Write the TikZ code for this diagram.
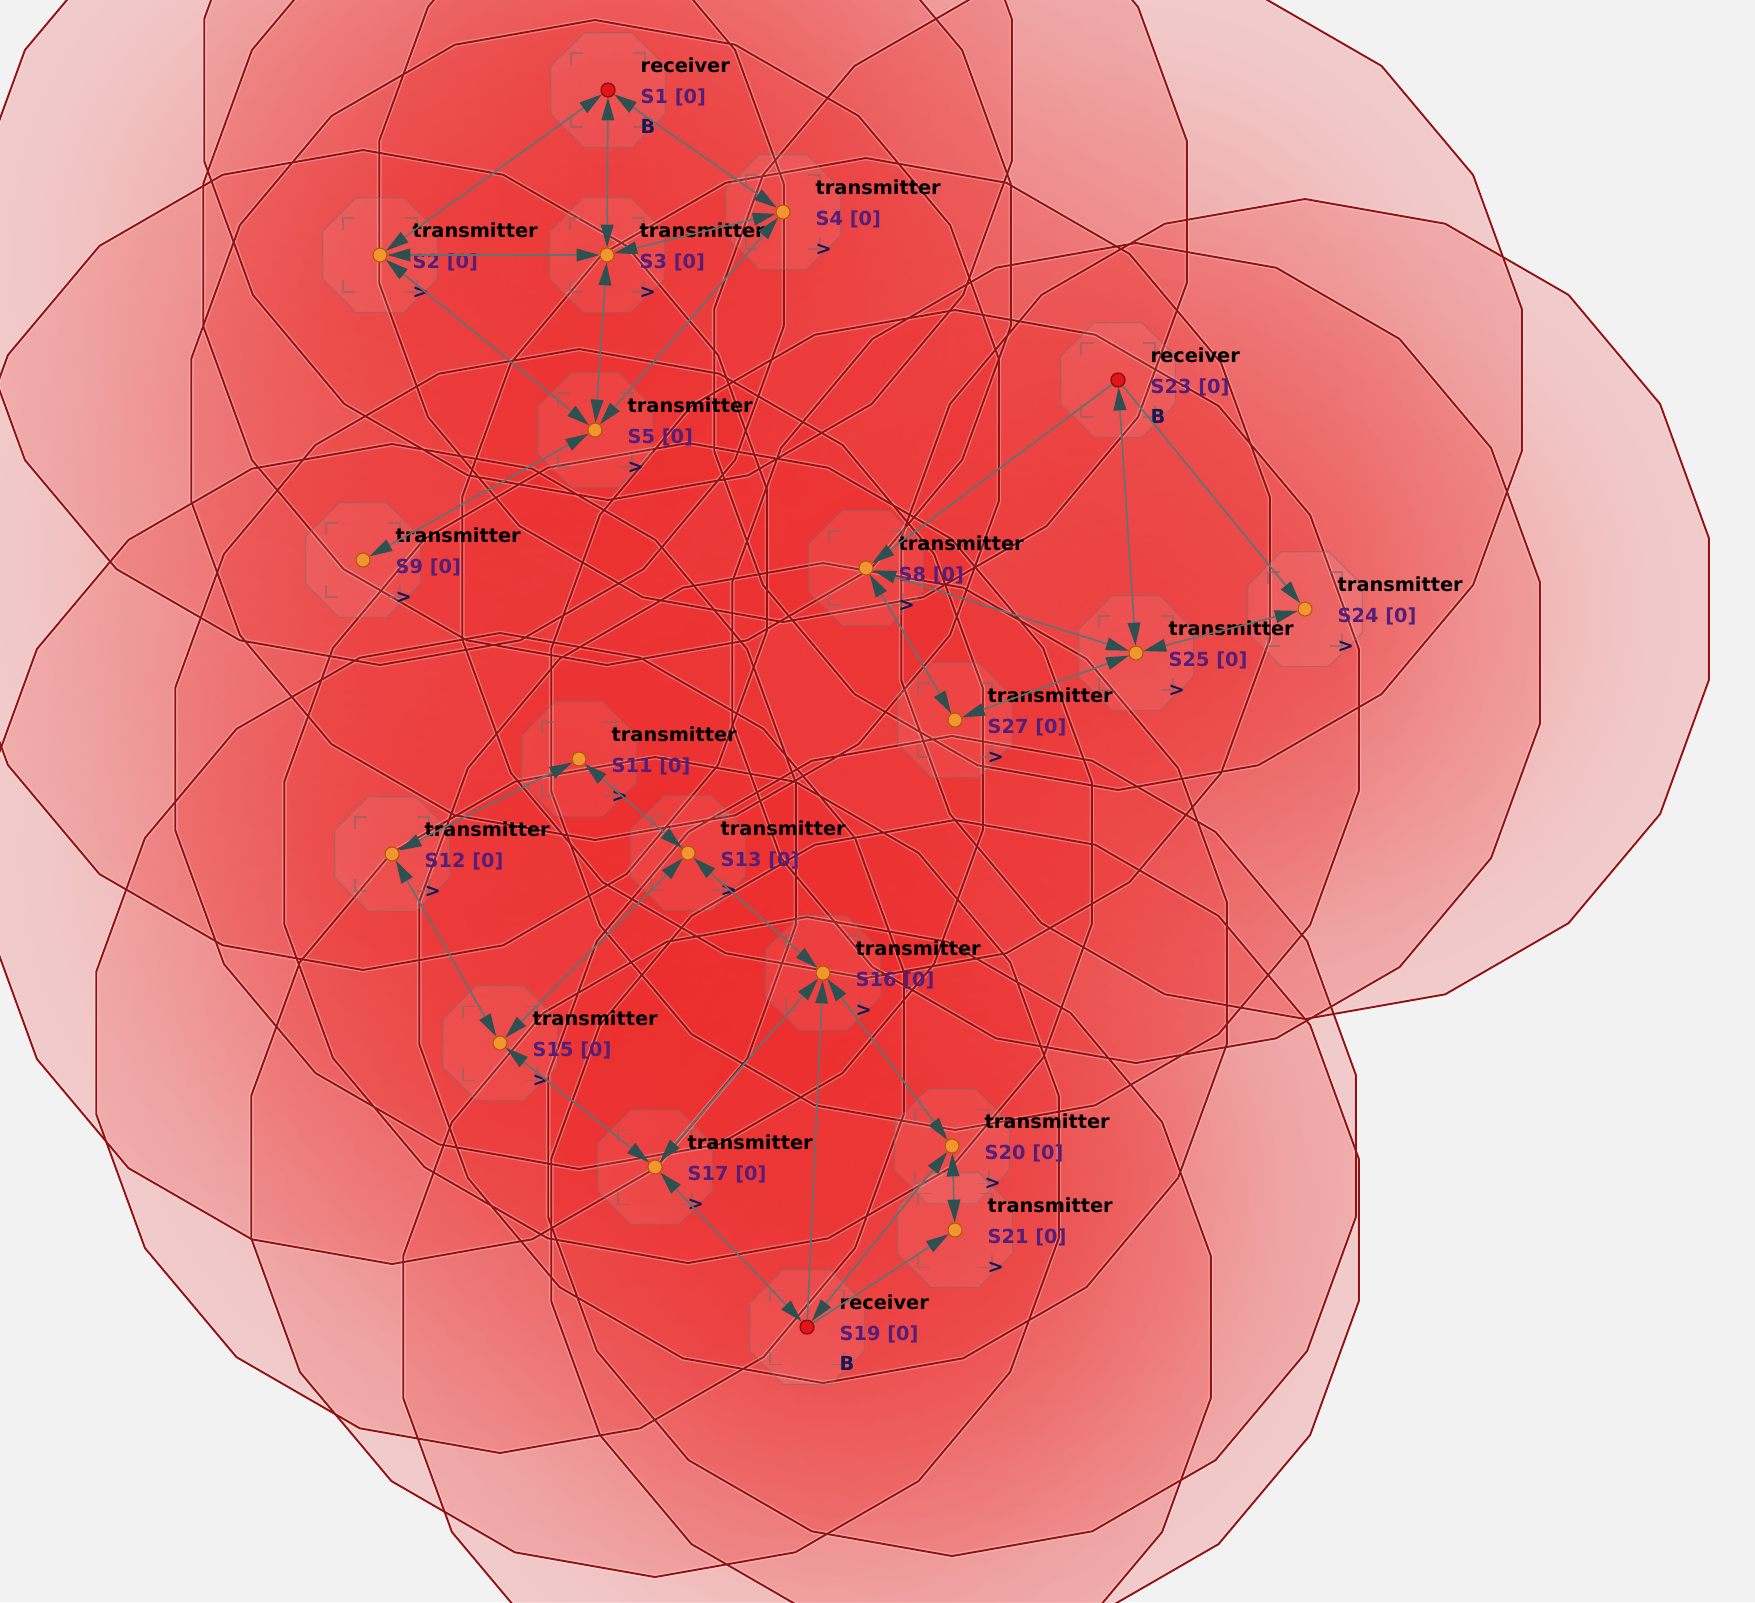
\documentclass[tikz,border=0pt]{standalone}
\usepackage{fontspec}
\usepackage{tikz}
\usetikzlibrary{positioning,shapes.geometric,arrows.meta,fadings}

\newfontfamily\wsnfont{DejaVu Sans}

\definecolor{paper}{RGB}{243,242,242}
\definecolor{rangered}{RGB}{236,40,40}
\definecolor{rangeedge}{RGB}{150,18,18}
\definecolor{zonegray}{RGB}{125,105,105}
\definecolor{linkgray}{RGB}{95,115,115}
\definecolor{tipgray}{RGB}{45,80,80}
\definecolor{txorange}{RGB}{242,150,50}
\definecolor{rxred}{RGB}{225,20,25}
\definecolor{idpurple}{RGB}{85,30,120}
\definecolor{marknavy}{RGB}{20,25,85}

\pgfdeclareradialshading{rangeshade}{\pgfpoint{0bp}{0bp}}{color(0bp)=(white!46!black); color(20bp)=(white!22!black); color(50bp)=(white!3!black)}
\pgfdeclarefading{rangefade}{\pgfuseshading{rangeshade}}

\tikzset{
  rangefill/.style={fill=rangered, path fading=rangefade},
  rangehalo/.style={draw=white, draw opacity=0.28, line width=1.3pt, line join=round},
  rangeline/.style={draw=rangeedge, line width=0.55pt, line join=round},
  zone/.style={fill=white, fill opacity=0.08, draw=zonegray, draw opacity=0.5, line width=0.3pt},
  bracket/.style={draw=zonegray, draw opacity=0.6, line width=0.3pt},
  tx/.style={circle, fill=txorange, draw=orange!70!black, line width=0.3pt, inner sep=0pt, minimum size=0.14cm},
  rx/.style={tx, fill=rxred, draw=red!50!black},
  link/.style={draw=linkgray, line width=0.45pt, >={Triangle[length=6.5pt, width=3.6pt, color=tipgray]}},
  lbl/.style={anchor=west, inner sep=0pt, align=left, font=\wsnfont\bfseries\fontsize{5.5}{8.7}\selectfont},
}

\begin{document}
\begin{tikzpicture}[x=0.01cm, y=-0.01cm]
\fill[paper] (0,0) rectangle (1755,1602);
\useasboundingbox (0,0) rectangle (1755,1602);
\clip (0,0) rectangle (1755,1602);

% sensor positions
\foreach \n/\px/\py in {1/608/90, 2/380/255, 3/607/255, 4/783/212, 5/595/430,
  9/363/560, 8/866/568, 23/1118/380, 24/1305/609, 25/1136/653, 27/955/720,
  11/579/759, 12/392/854, 13/688/853, 16/823/973, 15/500/1043, 17/655/1167,
  20/952/1146, 21/955/1230, 19/807/1327}
  \coordinate (c\n) at (\px,\py);

% radio ranges
\foreach \n in {1,2,3,4,5,8,9,11,12,13,15,16,17,19,20,21,23,24,25,27}
  \fill[rangefill, shift={(c\n)}] plot[variable=\t, domain=10:350, samples=18] (\t:410) -- cycle;
\foreach \n in {1,2,3,4,5,8,9,11,12,13,15,16,17,19,20,21,23,24,25,27}
  \draw[rangehalo, shift={(c\n)}] plot[variable=\t, domain=10:350, samples=18] (\t:410) -- cycle;
\foreach \n in {1,2,3,4,5,8,9,11,12,13,15,16,17,19,20,21,23,24,25,27}
  \draw[rangeline, shift={(c\n)}] plot[variable=\t, domain=10:350, samples=18] (\t:410) -- cycle;

% selection zones
\foreach \n in {1,2,3,4,5,8,9,11,12,13,15,16,17,19,20,21,23,24,25,27}{
  \draw[zone, shift={(c\n)}] plot[variable=\t, domain=22.5:337.5, samples=8] (\t:62) -- cycle;
  \draw[bracket, shift={(c\n)}] (-37,-25) -- (-37,-37) -- (-25,-37) (25,-37) -- (37,-37) -- (37,-25)
    (-37,25) -- (-37,37) -- (-25,37) (25,37) -- (37,37) -- (37,25);
}

% sensors
\node[rx] (S1) at (c1) {};
\node[tx] (S2) at (c2) {};
\node[tx] (S3) at (c3) {};
\node[tx] (S4) at (c4) {};
\node[tx] (S5) at (c5) {};
\node[tx] (S9) at (c9) {};
\node[tx] (S8) at (c8) {};
\node[rx] (S23) at (c23) {};
\node[tx] (S24) at (c24) {};
\node[tx] (S25) at (c25) {};
\node[tx] (S27) at (c27) {};
\node[tx] (S11) at (c11) {};
\node[tx] (S12) at (c12) {};
\node[tx] (S13) at (c13) {};
\node[tx] (S16) at (c16) {};
\node[tx] (S15) at (c15) {};
\node[tx] (S17) at (c17) {};
\node[tx] (S20) at (c20) {};
\node[tx] (S21) at (c21) {};
\node[rx] (S19) at (c19) {};

% labels
\node[lbl] (S1l) at ([shift={(32,6)}]S1) {receiver\\\textcolor{idpurple}{S1 [0]}\\\textcolor{marknavy}{B}};
\node[lbl] (S2l) at ([shift={(32,6)}]S2) {transmitter\\\textcolor{idpurple}{S2 [0]}\\\textcolor{marknavy}{>}};
\node[lbl] (S3l) at ([shift={(32,6)}]S3) {transmitter\\\textcolor{idpurple}{S3 [0]}\\\textcolor{marknavy}{>}};
\node[lbl] (S4l) at ([shift={(32,6)}]S4) {transmitter\\\textcolor{idpurple}{S4 [0]}\\\textcolor{marknavy}{>}};
\node[lbl] (S5l) at ([shift={(32,6)}]S5) {transmitter\\\textcolor{idpurple}{S5 [0]}\\\textcolor{marknavy}{>}};
\node[lbl] (S9l) at ([shift={(32,6)}]S9) {transmitter\\\textcolor{idpurple}{S9 [0]}\\\textcolor{marknavy}{>}};
\node[lbl] (S8l) at ([shift={(32,6)}]S8) {transmitter\\\textcolor{idpurple}{S8 [0]}\\\textcolor{marknavy}{>}};
\node[lbl] (S23l) at ([shift={(32,6)}]S23) {receiver\\\textcolor{idpurple}{S23 [0]}\\\textcolor{marknavy}{B}};
\node[lbl] (S24l) at ([shift={(32,6)}]S24) {transmitter\\\textcolor{idpurple}{S24 [0]}\\\textcolor{marknavy}{>}};
\node[lbl] (S25l) at ([shift={(32,6)}]S25) {transmitter\\\textcolor{idpurple}{S25 [0]}\\\textcolor{marknavy}{>}};
\node[lbl] (S27l) at ([shift={(32,6)}]S27) {transmitter\\\textcolor{idpurple}{S27 [0]}\\\textcolor{marknavy}{>}};
\node[lbl] (S11l) at ([shift={(32,6)}]S11) {transmitter\\\textcolor{idpurple}{S11 [0]}\\\textcolor{marknavy}{>}};
\node[lbl] (S12l) at ([shift={(32,6)}]S12) {transmitter\\\textcolor{idpurple}{S12 [0]}\\\textcolor{marknavy}{>}};
\node[lbl] (S13l) at ([shift={(32,6)}]S13) {transmitter\\\textcolor{idpurple}{S13 [0]}\\\textcolor{marknavy}{>}};
\node[lbl] (S16l) at ([shift={(32,6)}]S16) {transmitter\\\textcolor{idpurple}{S16 [0]}\\\textcolor{marknavy}{>}};
\node[lbl] (S15l) at ([shift={(32,6)}]S15) {transmitter\\\textcolor{idpurple}{S15 [0]}\\\textcolor{marknavy}{>}};
\node[lbl] (S17l) at ([shift={(32,6)}]S17) {transmitter\\\textcolor{idpurple}{S17 [0]}\\\textcolor{marknavy}{>}};
\node[lbl] (S20l) at ([shift={(32,6)}]S20) {transmitter\\\textcolor{idpurple}{S20 [0]}\\\textcolor{marknavy}{>}};
\node[lbl] (S21l) at ([shift={(32,6)}]S21) {transmitter\\\textcolor{idpurple}{S21 [0]}\\\textcolor{marknavy}{>}};
\node[lbl] (S19l) at ([shift={(32,6)}]S19) {receiver\\\textcolor{idpurple}{S19 [0]}\\\textcolor{marknavy}{B}};

% links
\draw[link, <->] (S2) -- (S1);
\draw[link, <->] (S3) -- (S1);
\draw[link, <->] (S1) -- (S4);
\draw[link, <->] (S2) -- (S3);
\draw[link, <->] (S3) -- (S4);
\draw[link, <->] (S2) -- (S5);
\draw[link, <->] (S3) -- (S5);
\draw[link, <->] (S4) -- (S5);
\draw[link, <->] (S9) -- (S5);
\draw[link, ->] (S23) -- (S8);
\draw[link, <->] (S23) -- (S25);
\draw[link, ->] (S23) -- (S24);
\draw[link, <->] (S24) -- (S25);
\draw[link, <->] (S8) -- (S25);
\draw[link, <->] (S8) -- (S27);
\draw[link, <->] (S27) -- (S25);
\draw[link, <->] (S12) -- (S11);
\draw[link, <->] (S11) -- (S13);
\draw[link, <->] (S12) -- (S15);
\draw[link, <->] (S13) -- (S15);
\draw[link, <->] (S13) -- (S16);
\draw[link, <->] (S15) -- (S17);
\draw[link, <->] (S17) -- (S16);
\draw[link, ->] (S19) -- (S16);
\draw[link, <->] (S16) -- (S20);
\draw[link, <->] (S17) -- (S19);
\draw[link, <->] (S20) -- (S19);
\draw[link, <->] (S20) -- (S21);
\draw[link, ->] (S19) -- (S21);
\end{tikzpicture}
\end{document}
